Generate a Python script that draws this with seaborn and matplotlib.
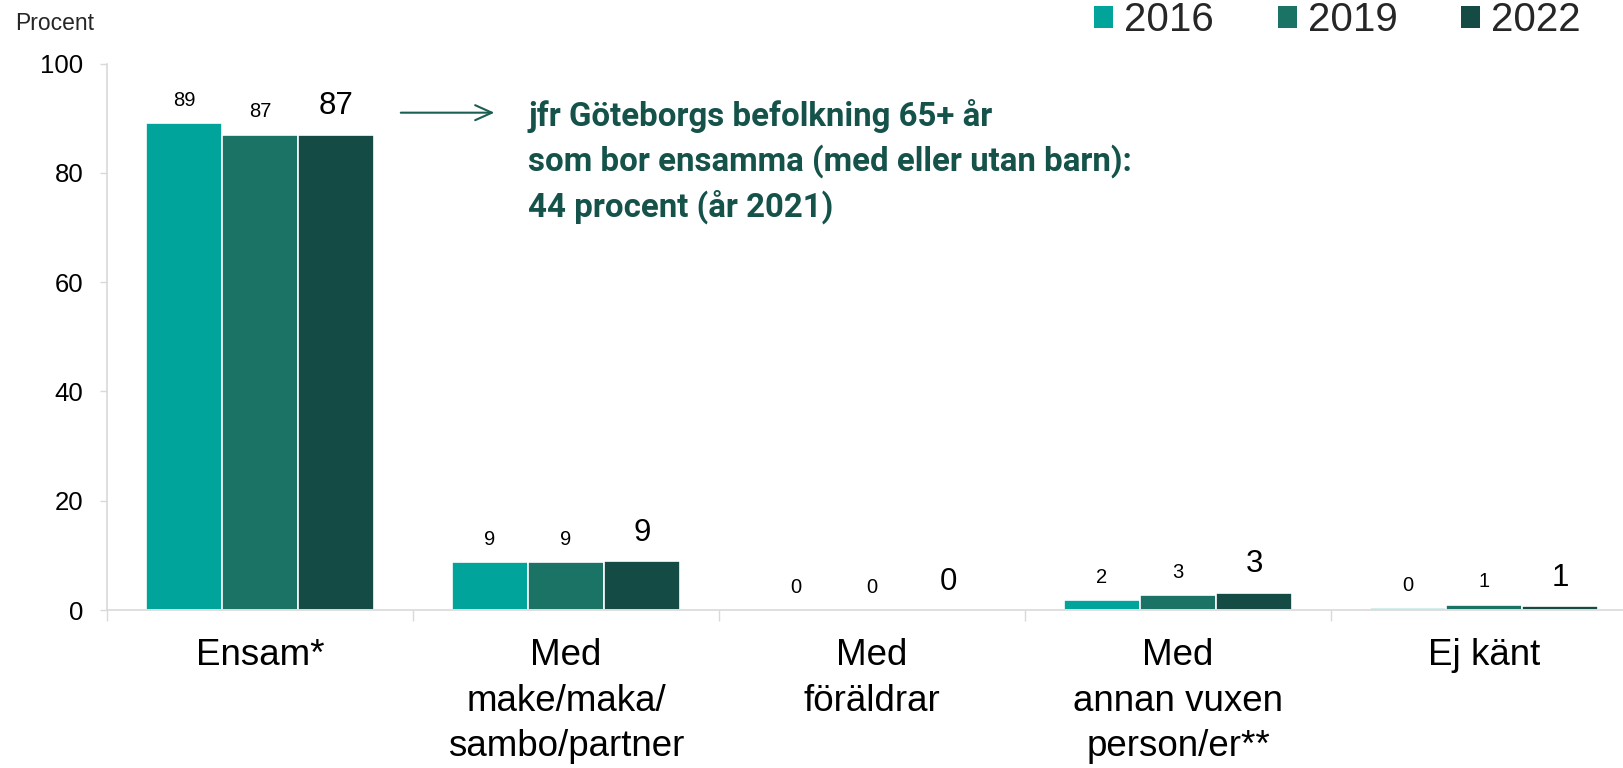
import matplotlib
matplotlib.use("Agg")
import matplotlib.pyplot as plt
import seaborn as sns
import pandas as pd
from matplotlib.patches import Patch

categories = ["Ensam*", "Med\nmake/maka/\nsambo/partner", "Med\nföräldrar",
              "Med\nannan vuxen\nperson/er**", "Ej känt"]
years = ["2016", "2019", "2022"]
v2016 = [89.1, 8.7, 0.0, 1.8, 0.35]
v2019 = [87.0, 8.7, 0.0, 2.8, 1.0]
v2022 = [87.0, 8.9, 0.0, 3.2, 0.75]
colors = ["#00A49A", "#1B7366", "#144C45"]
yticks = [0, 20, 40, 60, 80, 100]
annot_text = "jfr Göteborgs befolkning 65+ år\nsom bor ensamma (med eller utan barn):\n44 procent (år 2021)"

rows = []
for y, vals in zip(years, [v2016, v2019, v2022]):
    for c, v in zip(categories, vals):
        rows.append({"cat": c, "year": y, "val": v})
df = pd.DataFrame(rows)

sns.set_theme(style="white")
plt.rcParams["font.family"] = ["Liberation Sans", "DejaVu Sans"]

fig = plt.figure(figsize=(16.24, 7.68), dpi=100)
ax = fig.add_axes([107/1624, 1-610/768, (1637-107)/1624, (610-63.5)/768])

pal = dict(zip(years, colors))
sns.barplot(data=df, x="cat", y="val", hue="year", order=categories, hue_order=years,
            palette=pal, width=0.745, edgecolor="white", linewidth=1.2,
            saturation=1, ax=ax, legend=False)

ax.set_ylim(0, 100)
ax.set_xlim(-0.5, 4.5)
ax.set_yticks(yticks)
ax.set_xlabel("")
ax.set_ylabel("")

for sp in ["top", "right"]:
    ax.spines[sp].set_visible(False)
for sp in ["left", "bottom"]:
    ax.spines[sp].set_color("#d9d9d9")
    ax.spines[sp].set_linewidth(1.2)

ax.tick_params(axis="y", left=True, length=5, width=1, color="#d9d9d9",
               labelsize=18.5, pad=12, labelcolor="black")
ax.tick_params(axis="x", bottom=True, length=0, labelsize=26.5, pad=20, labelcolor="black")
ax.set_xticks([i - 0.5 for i in range(len(categories) + 1)], minor=True)
ax.tick_params(axis="x", which="minor", bottom=True, length=8, width=1, color="#d9d9d9")
for lab in ax.get_xticklabels():
    lab.set_linespacing(1.4)
    lab.set_ha("center")

sizes = [14.5, 14.5, 22.5]
pads = [9.5, 9.5, 9.5]
for cont, fs, pd_ in zip(ax.containers, sizes, pads):
    ax.bar_label(cont, fmt="%.0f", fontsize=fs, padding=pd_, color="black")

ax.annotate("", xy=(0.775, 91), xytext=(0.451, 91),
            arrowprops=dict(arrowstyle="->,head_length=1.0,head_width=0.45",
                            color="#1B5E52", lw=1.5))
ax.text(0.876, 93.5, annot_text, fontsize=23.8, fontweight="bold", color="#14524A",
        family=["Roboto", "DejaVu Sans"], va="top", ha="left", linespacing=1.42,
        transform=ax.transData)

fig.text(15/1624, 1-30/768, "Procent", fontsize=16.5, va="baseline", ha="left")

handles = [Patch(facecolor=c, edgecolor="none") for c in colors]
fig.legend(handles, years, loc="center left", bbox_to_anchor=(1094/1624, 1-20/768),
           ncol=3, frameon=False, fontsize=29, handlelength=0.47, handleheight=0.47,
           handletextpad=0.28, columnspacing=1.58, borderpad=0, borderaxespad=0)

fig.savefig("out.png", dpi=100)
